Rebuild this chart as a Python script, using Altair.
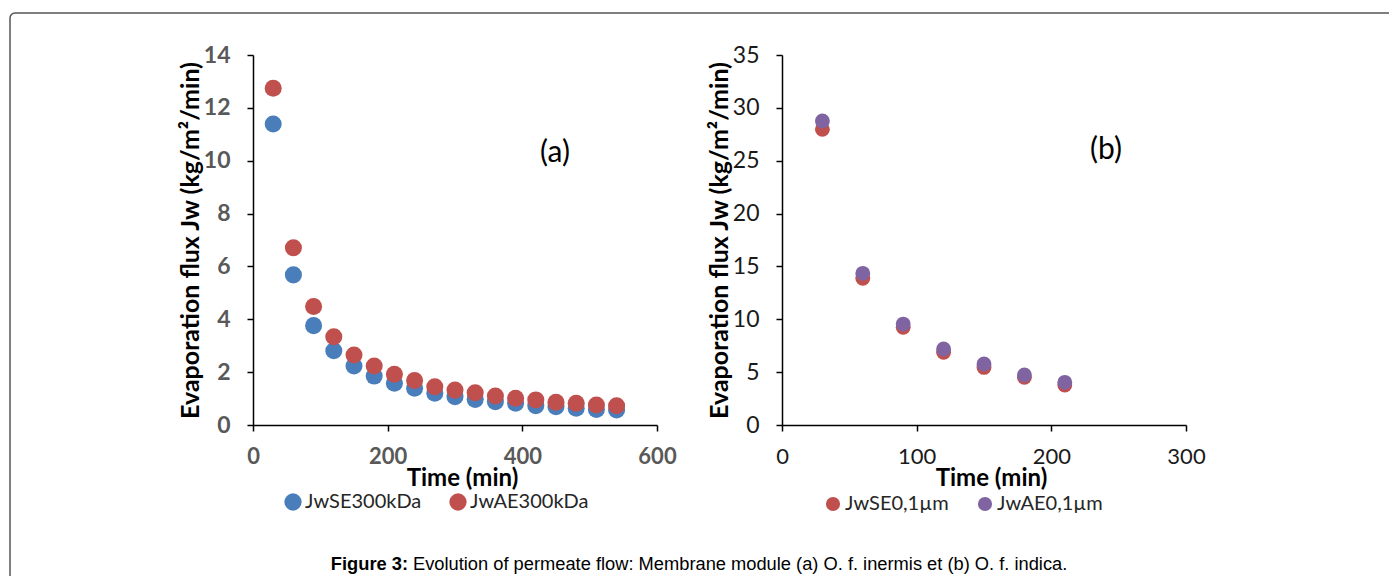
import altair as alt
import pandas as pd

# ---------------- data ----------------
time_a = [30, 60, 90, 120, 150, 180, 210, 240, 270, 300, 330, 360, 390, 420, 450, 480, 510, 540]
jw_se_300 = [11.39, 5.68, 3.76, 2.81, 2.23, 1.85, 1.58, 1.39, 1.20, 1.07, 0.97, 0.88, 0.82, 0.73, 0.69, 0.63, 0.59, 0.57]
jw_ae_300 = [12.74, 6.71, 4.48, 3.34, 2.65, 2.23, 1.92, 1.68, 1.45, 1.32, 1.22, 1.10, 1.01, 0.95, 0.86, 0.82, 0.76, 0.73]

time_b = [30, 60, 90, 120, 150, 180, 210]
jw_se_01 = [27.97, 13.87, 9.24, 6.87, 5.45, 4.51, 3.78]
jw_ae_01 = [28.76, 14.35, 9.55, 7.19, 5.77, 4.73, 4.04]

series_a = ["JwSE300kDa", "JwAE300kDa"]
series_b = ["JwSE0,1\u00b5m", "JwAE0,1\u00b5m"]
colors_a = ["#4A7EBB", "#C0504D"]
colors_b = ["#C0504D", "#8064A2"]

x_ticks_a = [0, 200, 400, 600]
y_ticks_a = [0, 2, 4, 6, 8, 10, 12, 14]
x_ticks_b = [0, 100, 200, 300]
y_ticks_b = [0, 5, 10, 15, 20, 25, 30, 35]

panel_labels = ["(a)", "(b)"]
label_pos_a = [448.5, 10.3]
label_pos_b = [240.6, 26.0]

x_title = "Time (min)"
y_title = "Evaporation flux Jw (kg/m\u00b2/min)"
caption_bold = "Figure 3:"
caption_text = "Evolution of permeate flow: Membrane module (a) O. f. inermis et (b) O. f. indica."

# ---------------- tables ----------------
def long_table(times, s1, s2, names):
    rows = []
    for k, (name, vals) in enumerate([(names[0], s1), (names[1], s2)]):
        for t, v in zip(times, vals):
            rows.append({"time": t, "flux": v, "series": name, "ord": k})
    return pd.DataFrame(rows)

df_a = long_table(time_a, jw_se_300, jw_ae_300, series_a)
df_b = long_table(time_b, jw_se_01, jw_ae_01, series_b)

W, H = 404, 370
FONT = "Lato"


def axis_x(values, label_weight, label_color):
    return alt.Axis(values=values, title=x_title, grid=False,
                    domainColor="black", domainWidth=1.5, tickColor="black",
                    tickWidth=1.5, tickSize=6, labelFont=FONT, labelFontSize=22,
                    labelFontWeight=label_weight, labelColor=label_color,
                    labelPadding=15, titleFont=FONT, titleFontSize=24,
                    titleFontWeight="bold", titleColor="black", titlePadding=-1,
                    titleX=209, labelFlush=False)


def axis_y(values, label_weight, label_color):
    return alt.Axis(values=values, title=y_title, grid=False,
                    domainColor="black", domainWidth=1.5, tickColor="black",
                    tickWidth=1.5, tickSize=6, labelFont=FONT, labelFontSize=23,
                    labelFontWeight=label_weight, labelColor=label_color,
                    labelPadding=17, titleFont=FONT, titleFontSize=25,
                    titleFontWeight="bold", titleColor="black", titlePadding=0)


def legend(x, y, size):
    return alt.Legend(orient="none", legendX=x, legendY=y, direction="horizontal",
                      title=None, symbolType="circle", symbolSize=size,
                      symbolStrokeWidth=0, labelFont=FONT, labelFontSize=20,
                      labelColor="#262626", labelOffset=2, columnPadding=26,
                      padding=0)


# ---------------- panel a ----------------
pts_a = alt.Chart(df_a).mark_circle(size=290, opacity=1).encode(
    x=alt.X("time:Q", scale=alt.Scale(domain=[0, 600], nice=False),
            axis=axis_x(x_ticks_a, "bold", "#595959")),
    y=alt.Y("flux:Q", scale=alt.Scale(domain=[0, 14], nice=False),
            axis=axis_y(y_ticks_a, "bold", "#595959")),
    color=alt.Color("series:N", scale=alt.Scale(domain=series_a, range=colors_a),
                    legend=legend(30, 437, 300)),
    order=alt.Order("ord:Q"),
)

lab_a = alt.Chart(pd.DataFrame({"t": [label_pos_a[0]], "v": [label_pos_a[1]],
                                "s": [panel_labels[0]]})).mark_text(
    font=FONT, fontSize=30, color="black").encode(x="t:Q", y="v:Q", text="s:N")

frame_w, frame_h, r = 1379, 563, 5
frame = alt.Chart(pd.DataFrame({"k": [0]})).mark_rect(
    fill="transparent", stroke="#555555", strokeWidth=1.5, cornerRadiusTopLeft=r,
    strokeDash=[frame_w - r, frame_h + frame_w, frame_h - r + 8.5, 4000],
).encode(x=alt.value(-243), x2=alt.value(-243 + frame_w),
         y=alt.value(-42), y2=alt.value(-42 + frame_h))

cap1 = alt.Chart(pd.DataFrame({"s": [caption_bold]})).mark_text(
    font="Liberation Sans", fontSize=18.3, fontWeight="bold", align="right",
    baseline="middle", color="black").encode(
    x=alt.value(155), y=alt.value(510), text="s:N")
cap2 = alt.Chart(pd.DataFrame({"s": [caption_text]})).mark_text(
    font="Liberation Sans", fontSize=18.3, align="left",
    baseline="middle", color="black").encode(
    x=alt.value(160), y=alt.value(510), text="s:N")

panel_a = alt.layer(frame, pts_a, lab_a, cap1, cap2).properties(width=W, height=H)

# ---------------- panel b ----------------
pts_b = alt.Chart(df_b).mark_circle(size=220, opacity=1).encode(
    x=alt.X("time:Q", scale=alt.Scale(domain=[0, 300], nice=False),
            axis=axis_x(x_ticks_b, "normal", "#1a1a1a")),
    y=alt.Y("flux:Q", scale=alt.Scale(domain=[0, 35], nice=False),
            axis=axis_y(y_ticks_b, "normal", "#1a1a1a")),
    color=alt.Color("series:N", scale=alt.Scale(domain=series_b, range=colors_b),
                    legend=legend(41, 439, 200)),
    order=alt.Order("ord:Q"),
)

lab_b = alt.Chart(pd.DataFrame({"t": [label_pos_b[0]], "v": [label_pos_b[1]],
                                "s": [panel_labels[1]]})).mark_text(
    font=FONT, fontSize=30, color="black").encode(x="t:Q", y="v:Q", text="s:N")

panel_b = alt.layer(pts_b, lab_b).properties(width=W, height=H)

chart = alt.hconcat(panel_a, panel_b, spacing=125, bounds="flush").resolve_scale(
    color="independent", x="independent", y="independent"
).properties(
    padding={"left": 1, "top": 4, "right": 0, "bottom": 0},
    background="white",
).configure_view(stroke=None)

chart.save("out.html", embed_options={"renderer": "svg", "actions": False})
